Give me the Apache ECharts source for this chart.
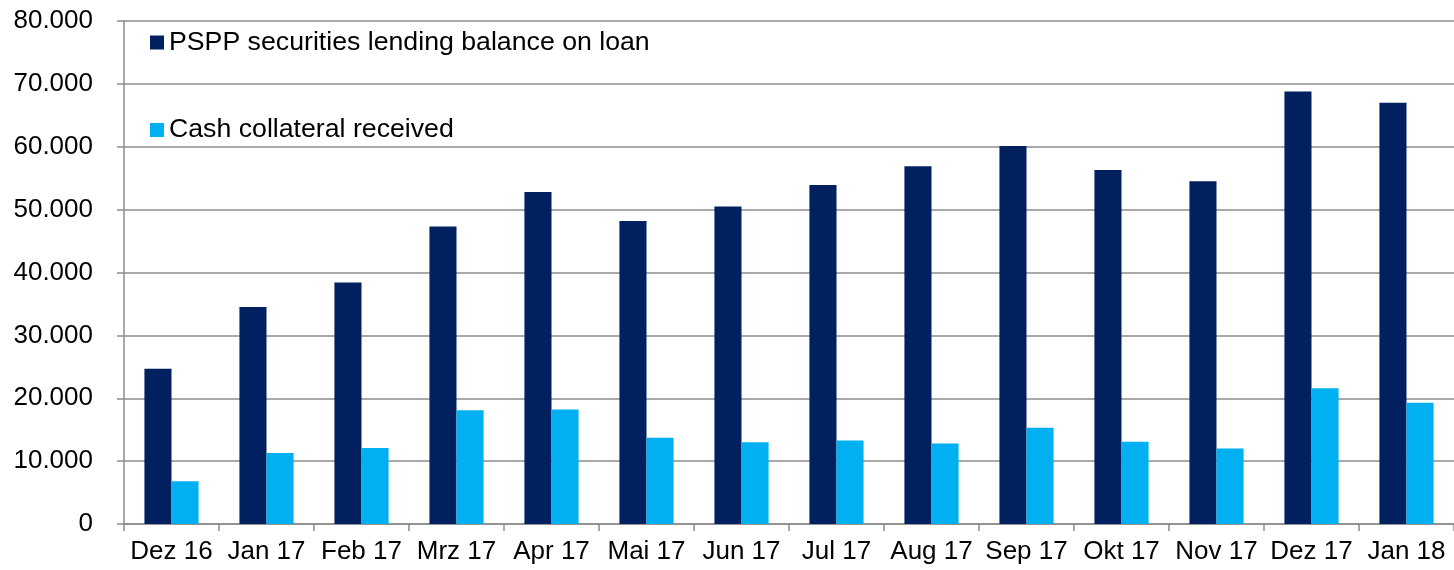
<!DOCTYPE html>
<html>
<head>
<meta charset="utf-8">
<script src="https://cdn.jsdelivr.net/npm/echarts@6/dist/echarts.min.js"></script>
<style>html,body{margin:0;padding:0;background:#fff;}#c{width:1454px;height:570px;}</style>
</head>
<body>
<div id="c"></div>
<script>
var categories = ['Dez 16','Jan 17','Feb 17','Mrz 17','Apr 17','Mai 17','Jun 17','Jul 17','Aug 17','Sep 17','Okt 17','Nov 17','Dez 17','Jan 18'];
var lendingBalance = [24700, 34500, 38400, 47300, 52800, 48200, 50500, 53900, 56900, 60100, 56300, 54500, 68800, 67000];
var cashCollateral = [6800, 11300, 12100, 18100, 18200, 13700, 13000, 13300, 12800, 15300, 13100, 12000, 21600, 19300];
var seriesNames = ['PSPP securities lending balance on loan', 'Cash collateral received'];

var chart = echarts.init(document.getElementById('c'));
var font = 'Liberation Sans, Arial, sans-serif';
function fmt(v){ return String(v).replace(/\B(?=(\d{3})+(?!\d))/g, '.'); }
chart.setOption({
  animation: false,
  textStyle: {fontFamily: font},
  legend: [
    {data: [seriesNames[0]], left: 150, top: 29, padding: 0, orient: 'vertical', itemWidth: 14, itemHeight: 14,
     icon: 'rect', textStyle: {fontSize: 26.7, lineHeight: 26, color: '#000', fontFamily: font, padding: [0,0,0,0]}},
    {data: [seriesNames[1]], left: 150, top: 116.5, padding: 0, orient: 'vertical', itemWidth: 14, itemHeight: 14,
     icon: 'rect', textStyle: {fontSize: 26.7, lineHeight: 26, color: '#000', fontFamily: font, padding: [0,0,0,0]}}
  ],
  grid: {left: 124, right: 0, top: 21, bottom: 46, containLabel: false},
  xAxis: {
    type: 'category', data: categories,
    axisLine: {lineStyle: {color: '#8c8c8c', width: 1.5}},
    axisTick: {show: true, length: 7, lineStyle: {color: '#8c8c8c', width: 1.5}},
    axisLabel: {fontSize: 26, color: '#000', margin: 15, fontFamily: font, interval: 0}
  },
  yAxis: {
    type: 'value', min: 0, max: 80000, interval: 10000,
    axisLine: {show: true, lineStyle: {color: '#8c8c8c', width: 1.5}},
    axisTick: {show: true, length: 7, lineStyle: {color: '#8c8c8c', width: 1.5}},
    splitLine: {show: true, lineStyle: {color: '#8c8c8c', width: 1.5}},
    axisLabel: {fontSize: 26, color: '#000', margin: 31, fontFamily: font, formatter: fmt}
  },
  series: [
    {name: seriesNames[0], type: 'bar', data: lendingBalance, barGap: '0%', barCategoryGap: '43%',
     itemStyle: {color: '#002060'}},
    {name: seriesNames[1], type: 'bar', data: cashCollateral,
     itemStyle: {color: '#00B0F0'}}
  ]
});
</script>
</body>
</html>
